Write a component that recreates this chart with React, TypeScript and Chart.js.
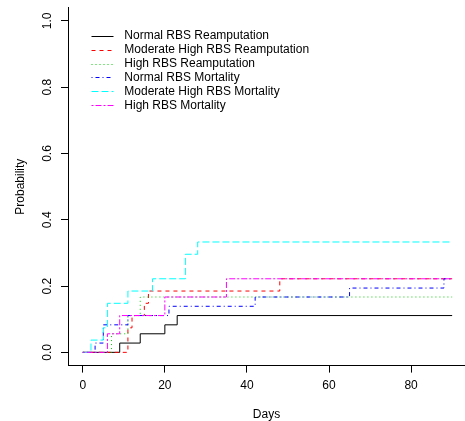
import React, { useEffect, useRef } from "react";
import { Chart, registerables } from "chart.js";

Chart.register(...registerables);

const seriesNames = [
  "Normal RBS Reamputation",
  "Moderate High RBS Reamputation",
  "High RBS Reamputation",
  "Normal RBS Mortality",
  "Moderate High RBS Mortality",
  "High RBS Mortality",
];

const normalReampDays = [0, 9, 14, 20, 23, 90];
const normalReampProb = [0, 0.028, 0.056, 0.083, 0.111, 0.111];

const modHighReampDays = [0, 11, 12, 15, 16, 48, 90];
const modHighReampProb = [0, 0.074, 0.111, 0.148, 0.185, 0.222, 0.222];

const highReampDays = [0, 7, 11, 14, 90];
const highReampProb = [0, 0.056, 0.111, 0.167, 0.167];

const normalMortDays = [0, 3, 5, 11, 21, 42, 65, 88, 90];
const normalMortProb = [0, 0.028, 0.083, 0.111, 0.139, 0.167, 0.194, 0.222, 0.222];

const modHighMortDays = [0, 2, 5, 6, 11, 17, 25, 28, 90];
const modHighMortProb = [0, 0.037, 0.074, 0.148, 0.185, 0.222, 0.296, 0.333, 0.333];

const highMortDays = [0, 6, 9, 20, 35, 90];
const highMortProb = [0, 0.056, 0.111, 0.167, 0.222, 0.222];

const xTicks = [0, 20, 40, 60, 80];
const yTicks = [0, 0.2, 0.4, 0.6, 0.8, 1.0];

const colors = ["#000000", "#FF0000", "#00CD00", "#0000FF", "#00FFFF", "#FF00FF"];
const dashes: number[][] = [[], [4, 4], [1, 3], [1, 3, 4, 3], [7, 3], [2, 2, 6, 2]];

const FONT = '"Liberation Sans", Arial, sans-serif';

function pts(days: number[], probs: number[]) {
  return days.map((d, i) => ({ x: d, y: probs[i] }));
}

const allSeries = [
  pts(normalReampDays, normalReampProb),
  pts(modHighReampDays, modHighReampProb),
  pts(highReampDays, highReampProb),
  pts(normalMortDays, normalMortProb),
  pts(modHighMortDays, modHighMortProb),
  pts(highMortDays, highMortProb),
];

const legendPlugin = {
  id: "rLegend",
  afterDatasetsDraw(chart: any) {
    const ctx = chart.ctx;
    ctx.save();
    ctx.font = `12px ${FONT}`;
    ctx.textBaseline = "middle";
    ctx.textAlign = "left";
    seriesNames.forEach((name, i) => {
      const y = 35.7 + i * 13.9;
      ctx.strokeStyle = colors[i];
      ctx.lineWidth = 1;
      ctx.setLineDash(dashes[i]);
      ctx.beginPath();
      ctx.moveTo(91.5, Math.round(y) + 0.5);
      ctx.lineTo(113.5, Math.round(y) + 0.5);
      ctx.stroke();
      ctx.setLineDash([]);
      ctx.fillStyle = "#000";
      ctx.fillText(name, 124.3, y);
    });
    ctx.restore();
  },
};

export default function App() {
  const ref = useRef<HTMLCanvasElement>(null);
  useEffect(() => {
    if (!ref.current) return;
    const chart = new Chart(ref.current, {
      type: "line",
      data: {
        datasets: allSeries.map((data, i) => ({
          label: seriesNames[i],
          data,
          borderColor: colors[i],
          backgroundColor: colors[i],
          borderWidth: 1,
          borderDash: dashes[i],
          pointRadius: 0,
          stepped: "before" as const,
          fill: false,
          order: 5 - i,
        })),
      },
      options: {
        responsive: false,
        animation: false,
        layout: { padding: { top: 7.7, right: 0, bottom: 0, left: 0 } },
        plugins: { legend: { display: false }, tooltip: { enabled: false } },
        scales: {
          x: {
            type: "linear",
            min: -3.6,
            max: 93.13,
            afterBuildTicks: (s: any) => {
              s.ticks = xTicks.map((v) => ({ value: v }));
            },
            afterFit: (s: any) => {
              s.height = 55.4;
              s.paddingLeft = 0;
              s.paddingRight = 0;
            },
            grid: { drawOnChartArea: false, drawTicks: true, tickLength: 7, color: "#000" },
            border: { display: true, color: "#000", width: 1 },
            ticks: {
              color: "#000",
              font: { family: FONT, size: 12 },
              padding: 6,
              maxRotation: 0,
              autoSkip: false,
              callback: (v: any) => String(v),
            },
            title: {
              display: true,
              text: "Days",
              color: "#000",
              font: { family: FONT, size: 12, lineHeight: 1 },
              padding: { top: 0, bottom: 0 },
            },
          },
          y: {
            type: "linear",
            min: -0.04,
            max: 1.04,
            afterBuildTicks: (s: any) => {
              s.ticks = yTicks.map((v) => ({ value: v }));
            },
            afterFit: (s: any) => {
              s.width = 68;
              s.paddingTop = 0;
              s.paddingBottom = 0;
            },
            grid: { drawOnChartArea: false, drawTicks: true, tickLength: 7, color: "#000" },
            border: { display: true, color: "#000", width: 1 },
            ticks: {
              color: "#000",
              font: { family: FONT, size: 12 },
              padding: 4.5,
              minRotation: 90,
              maxRotation: 90,
              crossAlign: "center",
              autoSkip: false,
              callback: (v: any) => Number(v).toFixed(1),
            },
            title: {
              display: true,
              text: "Probability",
              color: "#000",
              font: { family: FONT, size: 12, lineHeight: 1 },
              padding: { top: 15, bottom: 0 },
            },
          },
        },
      },
      plugins: [legendPlugin],
    });
    return () => chart.destroy();
  }, []);
  return (
    <div style={{ position: "fixed", left: 0, top: 0, width: 465, height: 421, background: "#fff" }}>
      <canvas ref={ref} width={465} height={421} style={{ width: 465, height: 421 }} />
    </div>
  );
}
